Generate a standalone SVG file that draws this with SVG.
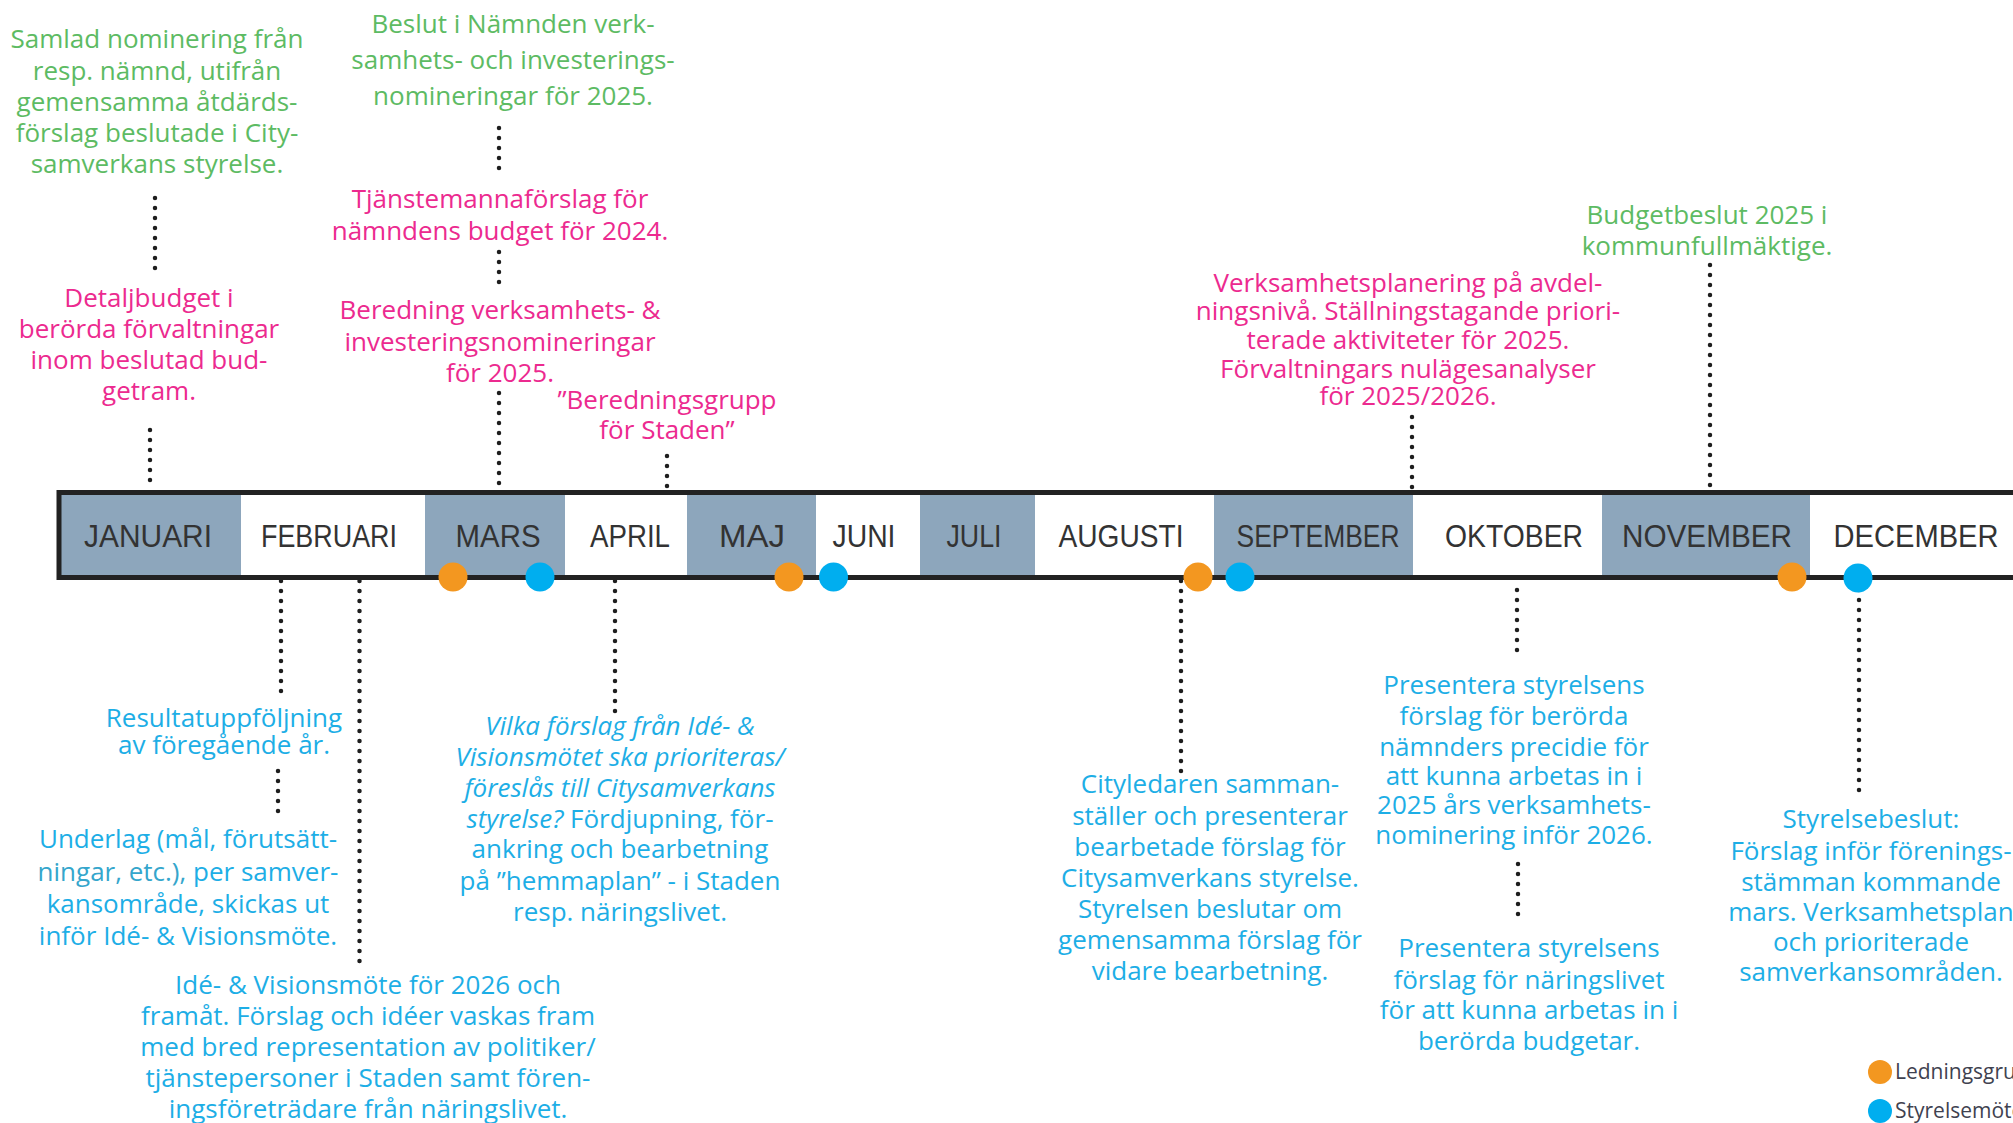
<svg xmlns="http://www.w3.org/2000/svg" width="2013" height="1123" viewBox="0 0 2013 1123">
<style>
.t{font-family:"Open Sans","Liberation Sans",sans-serif;font-size:26px;text-anchor:middle}
.g{fill:#5dbb63}
.p{fill:#ec2a8f}
.b{fill:#1daee6}
.i{font-style:italic}
.m{font-family:"Liberation Sans",sans-serif;font-size:32px;fill:#333333;text-anchor:middle}
.cell{fill:#8da6bc}
.dot{stroke:#1e1e1e;stroke-width:4.5;stroke-linecap:round;stroke-dasharray:0 10;fill:none}
.lg{font-family:"Open Sans","Liberation Sans",sans-serif;font-size:21px;fill:#3f4250}
.or{fill:#f39720}
.bl{fill:#00aeef}
</style>

<rect x="0" y="0" width="2013" height="1123" fill="#ffffff"/>

<g id="connectors">
<line class="dot" x1="155" y1="198" x2="155" y2="271"/>
<line class="dot" x1="150" y1="430" x2="150" y2="490"/>
<line class="dot" x1="499" y1="128" x2="499" y2="176"/>
<line class="dot" x1="499" y1="252" x2="499" y2="286"/>
<line class="dot" x1="499" y1="393" x2="499" y2="490"/>
<line class="dot" x1="667" y1="456" x2="667" y2="490"/>
<line class="dot" x1="1412" y1="417" x2="1412" y2="490"/>
<line class="dot" x1="1710" y1="265" x2="1710" y2="490"/>
<line class="dot" x1="281" y1="581" x2="281" y2="692"/>
<line class="dot" x1="278" y1="771" x2="278" y2="815"/>
<line class="dot" x1="359.5" y1="581" x2="359.5" y2="963"/>
<line class="dot" x1="615" y1="581" x2="615" y2="714"/>
<line class="dot" x1="1181" y1="581" x2="1181" y2="772"/>
<line class="dot" x1="1517" y1="590" x2="1517" y2="654"/>
<line class="dot" x1="1518" y1="864" x2="1518" y2="924"/>
<line class="dot" x1="1859" y1="590" x2="1859" y2="798"/>
</g>

<g id="timeline">
<rect x="59" y="492.5" width="2000" height="85" fill="#ffffff"/>
<rect class="cell" x="61" y="495" width="180" height="80"/>
<rect class="cell" x="425" y="495" width="140" height="80"/>
<rect class="cell" x="687" y="495" width="129" height="80"/>
<rect class="cell" x="920" y="495" width="115" height="80"/>
<rect class="cell" x="1214" y="495" width="199" height="80"/>
<rect class="cell" x="1602" y="495" width="208" height="80"/>
<rect x="59" y="492.5" width="2000" height="85" fill="none" stroke="#222222" stroke-width="5"/>
</g>

<g id="months">
<text class="m" x="148" y="547" textLength="128" lengthAdjust="spacingAndGlyphs">JANUARI</text>
<text class="m" x="329" y="547" textLength="136" lengthAdjust="spacingAndGlyphs">FEBRUARI</text>
<text class="m" x="498" y="547" textLength="85" lengthAdjust="spacingAndGlyphs">MARS</text>
<text class="m" x="630" y="547" textLength="80" lengthAdjust="spacingAndGlyphs">APRIL</text>
<text class="m" x="752" y="547" textLength="66" lengthAdjust="spacingAndGlyphs">MAJ</text>
<text class="m" x="864" y="547" textLength="63" lengthAdjust="spacingAndGlyphs">JUNI</text>
<text class="m" x="974" y="547" textLength="55" lengthAdjust="spacingAndGlyphs">JULI</text>
<text class="m" x="1121" y="547" textLength="125" lengthAdjust="spacingAndGlyphs">AUGUSTI</text>
<text class="m" x="1318" y="547" textLength="163" lengthAdjust="spacingAndGlyphs">SEPTEMBER</text>
<text class="m" x="1514" y="547" textLength="138" lengthAdjust="spacingAndGlyphs">OKTOBER</text>
<text class="m" x="1707" y="547" textLength="170" lengthAdjust="spacingAndGlyphs">NOVEMBER</text>
<text class="m" x="1916" y="547" textLength="165" lengthAdjust="spacingAndGlyphs">DECEMBER</text>
</g>

<g id="meetings">
<circle class="or" cx="453" cy="577" r="14.5"/>
<circle class="bl" cx="540" cy="577" r="14.5"/>
<circle class="or" cx="789" cy="577" r="14.5"/>
<circle class="bl" cx="833.5" cy="577" r="14.5"/>
<circle class="or" cx="1198" cy="577" r="14.5"/>
<circle class="bl" cx="1240" cy="577" r="14.5"/>
<circle class="or" cx="1792" cy="577" r="14.5"/>
<circle class="bl" cx="1858" cy="578" r="14.5"/>
</g>

<g id="n-samlad">
<text class="t g" x="157" y="48">Samlad nominering från</text>
<text class="t g" x="157" y="79.5">resp. nämnd, utifrån</text>
<text class="t g" x="157" y="110.5">gemensamma åtdärds-</text>
<text class="t g" x="157" y="141.5">förslag beslutade i City-</text>
<text class="t g" x="157" y="173">samverkans styrelse.</text>
</g>

<g id="n-detaljbudget">
<text class="t p" x="149" y="307">Detaljbudget i</text>
<text class="t p" x="149" y="338">berörda förvaltningar</text>
<text class="t p" x="149" y="369">inom beslutad bud-</text>
<text class="t p" x="149" y="400">getram.</text>
</g>

<g id="n-beslut">
<text class="t g" x="513" y="33">Beslut i Nämnden verk-</text>
<text class="t g" x="513" y="69">samhets- och investerings-</text>
<text class="t g" x="513" y="104.5">nomineringar för 2025.</text>
</g>

<g id="n-tjanste">
<text class="t p" x="500" y="208">Tjänstemannaförslag för</text>
<text class="t p" x="500" y="239.5">nämndens budget för 2024.</text>
</g>

<g id="n-beredning">
<text class="t p" x="500" y="319">Beredning verksamhets- &amp;</text>
<text class="t p" x="500" y="350.5">investeringsnomineringar</text>
<text class="t p" x="500" y="381.5">för 2025.</text>
</g>

<g id="n-beredningsgrupp">
<text class="t p" x="667" y="408.5">”Beredningsgrupp</text>
<text class="t p" x="667" y="439">för Staden”</text>
</g>

<g id="n-verksamhetsplanering">
<text class="t p" x="1408" y="292">Verksamhetsplanering på avdel-</text>
<text class="t p" x="1408" y="320">ningsnivå. Ställningstagande priori-</text>
<text class="t p" x="1408" y="348.5">terade aktiviteter för 2025.</text>
<text class="t p" x="1408" y="378">Förvaltningars nulägesanalyser</text>
<text class="t p" x="1408" y="405">för 2025/2026.</text>
</g>

<g id="n-budgetbeslut">
<text class="t g" x="1707" y="224">Budgetbeslut 2025 i</text>
<text class="t g" x="1707" y="254.5">kommunfullmäktige.</text>
</g>

<g id="n-resultat">
<text class="t b" x="224" y="727">Resultatuppföljning</text>
<text class="t b" x="224" y="753.5">av föregående år.</text>
</g>

<g id="n-underlag">
<text class="t b" x="188" y="848">Underlag (mål, förutsätt-</text>
<text class="t b" x="188" y="881"><tspan fill="#35a6cc">ningar, etc.),</tspan> per samver-</text>
<text class="t b" x="188" y="913">kansområde, skickas ut</text>
<text class="t b" x="188" y="944.5">inför Idé- &amp; Visionsmöte.</text>
</g>

<g id="n-ide">
<text class="t b" x="368" y="993.5">Idé- &amp; Visionsmöte för 2026 och</text>
<text class="t b" x="368" y="1024.5">framåt. Förslag och idéer vaskas fram</text>
<text class="t b" x="368" y="1056">med bred representation av politiker/</text>
<text class="t b" x="368" y="1087">tjänstepersoner i Staden samt fören-</text>
<text class="t b" x="368" y="1118">ingsföreträdare från näringslivet.</text>
</g>

<g id="n-vilka">
<text class="t b i" x="620" y="735">Vilka förslag från Idé- &amp;</text>
<text class="t b i" x="620" y="766">Visionsmötet ska prioriteras/</text>
<text class="t b i" x="620" y="796.5">föreslås till Citysamverkans</text>
<text class="t b" x="620" y="827.5"><tspan class="i">styrelse?</tspan> Fördjupning, för-</text>
<text class="t b" x="620" y="858">ankring och bearbetning</text>
<text class="t b" x="620" y="889.5">på ”hemmaplan” - i Staden</text>
<text class="t b" x="620" y="920.5">resp. näringslivet.</text>
</g>

<g id="n-cityledaren">
<text class="t b" x="1210" y="793">Cityledaren samman-</text>
<text class="t b" x="1210" y="824.5">ställer och presenterar</text>
<text class="t b" x="1210" y="855.5">bearbetade förslag för</text>
<text class="t b" x="1210" y="886.5">Citysamverkans styrelse.</text>
<text class="t b" x="1210" y="917.5">Styrelsen beslutar om</text>
<text class="t b" x="1210" y="948.5">gemensamma förslag för</text>
<text class="t b" x="1210" y="980">vidare bearbetning.</text>
</g>

<g id="n-presentera-namnder">
<text class="t b" x="1514" y="694">Presentera styrelsens</text>
<text class="t b" x="1514" y="725">förslag för berörda</text>
<text class="t b" x="1514" y="755.5">nämnders precidie för</text>
<text class="t b" x="1514" y="784.5">att kunna arbetas in i</text>
<text class="t b" x="1514" y="813.5">2025 års verksamhets-</text>
<text class="t b" x="1514" y="844">nominering inför 2026.</text>
</g>

<g id="n-presentera-naringsliv">
<text class="t b" x="1529" y="957">Presentera styrelsens</text>
<text class="t b" x="1529" y="988.5">förslag för näringslivet</text>
<text class="t b" x="1529" y="1019">för att kunna arbetas in i</text>
<text class="t b" x="1529" y="1050">berörda budgetar.</text>
</g>

<g id="n-styrelsebeslut">
<text class="t b" x="1871" y="828">Styrelsebeslut:</text>
<text class="t b" x="1871" y="860">Förslag inför förenings-</text>
<text class="t b" x="1871" y="890.5">stämman kommande</text>
<text class="t b" x="1871" y="920.5">mars. Verksamhetsplan</text>
<text class="t b" x="1871" y="951">och prioriterade</text>
<text class="t b" x="1871" y="981">samverkansområden.</text>
</g>

<g id="legend">
<circle class="or" cx="1880" cy="1072" r="12"/>
<text class="lg" x="1895" y="1079">Ledningsgruppsmöte</text>
<circle class="bl" cx="1880" cy="1111" r="12"/>
<text class="lg" x="1895" y="1118">Styrelsemöte</text>
</g>
</svg>
